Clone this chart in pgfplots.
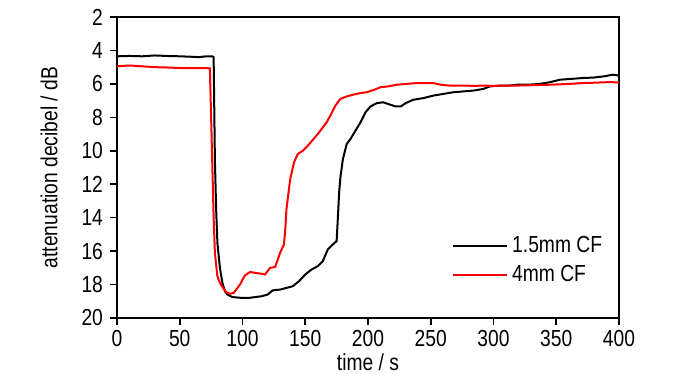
\documentclass[border=0pt]{standalone}
\usepackage{pgfplots}
\pgfplotsset{compat=1.18}
\usepackage{fontspec}
\setmainfont{Liberation Sans}[FakeStretch=0.83]
\pgfplotstableread{
t v
0 4.35
10 4.33
20 4.35
30 4.30
40 4.33
50 4.35
60 4.38
65 4.40
70 4.36
76 4.35
77 4.4
78 10.5
79 13.5
80 15.5
82 17.0
84 17.9
86 18.4
88 18.6
92 18.75
100 18.8
105 18.8
110 18.75
115 18.7
120 18.6
124 18.35
130 18.3
135 18.2
140 18.1
145 17.8
150 17.4
155 17.1
160 16.9
164 16.6
168 15.9
172 15.6
175 15.4
176 14.0
177 12.5
178 11.6
180 10.5
183 9.6
186 9.3
190 8.8
194 8.3
198 7.7
202 7.35
207 7.15
212 7.1
218 7.25
222 7.35
226 7.35
230 7.15
236 6.95
244 6.85
252 6.7
260 6.6
268 6.5
276 6.45
284 6.4
292 6.3
297 6.15
305 6.1
312 6.1
319 6.05
328 6.05
337 6.0
345 5.9
353 5.75
362 5.7
371 5.65
380 5.62
388 5.55
395 5.45
400 5.5
}\blackdata
\pgfplotstableread{
t v
0 4.95
5 4.92
10 4.9
20 4.95
30 5.0
40 5.02
50 5.05
60 5.05
70 5.05
74 5.07
75 8
76 11
77 14
78 16.1
80 17.5
82 17.9
84.5 18.2
87 18.45
90 18.55
93 18.5
96 18.2
98 18.0
100 17.7
102 17.45
106 17.25
110 17.3
115 17.35
118 17.4
122 17.0
126 16.95
130 16.1
133 15.6
134 14.8
135 13.5
137 12.3
138 11.7
141 10.7
144 10.2
148 10.0
152 9.7
156 9.35
160 9.0
164 8.6
167 8.3
170 7.9
174 7.3
178 6.9
183 6.75
188 6.65
194 6.55
199 6.5
205 6.35
210 6.2
216 6.15
223 6.05
231 6.0
239 5.95
246 5.95
252 5.95
258 6.05
265 6.1
275 6.1
285 6.12
292 6.1
300 6.12
310 6.1
319 6.1
330 6.08
345 6.05
355 6.02
365 5.98
371 5.95
380 5.93
390 5.9
395 5.9
400 5.92
}\reddata
\begin{document}
\begin{tikzpicture}
\useasboundingbox (-58.5pt,-28pt) rectangle (291.5pt,159pt);
\begin{axis}[
  at={(0pt,0pt)}, anchor=south west,
  scale only axis, width=251pt, height=150.5pt,
  xmin=0, xmax=400, ymin=2, ymax=20,
  y dir=reverse,
  xtick={0,50,...,400}, ytick={2,4,...,20},
  tick align=outside, xtick pos=left, ytick pos=left,
  major tick length=3.5pt,
  axis line style={line width=1pt},
  every tick/.style={black, line width=0.8pt},
  /pgf/number format/assume math mode=true,
  tick label style={font=\fontsize{11.6}{13}\selectfont},
  xticklabel style={yshift=1pt},
  label style={font=\fontsize{11.6}{13}\selectfont},
  xlabel={time / s},
  ylabel={attenuation decibel / dB},
  xlabel style={at={(axis description cs:0.5,0)}, anchor=center, yshift=-22pt, inner sep=1pt},
  ylabel style={at={(axis description cs:0,0.5)}, anchor=center, yshift=34pt},
  legend style={draw=none, fill=none, font=\fontsize{11.6}{13}\selectfont,
    at={(axis description cs:0.655,0.30)}, anchor=north west,
    row sep=1pt},
  legend cell align=left,
  legend image code/.code={\draw[#1] (0pt,0pt) -- (27pt,0pt);},
]
\addplot[black, line width=1pt] table[x=t, y=v] {\blackdata};
\addlegendentry{1.5mm CF}
\addplot[red, line width=1pt] table[x=t, y=v] {\reddata};
\addlegendentry{4mm CF}
\end{axis}
\end{tikzpicture}
\end{document}
